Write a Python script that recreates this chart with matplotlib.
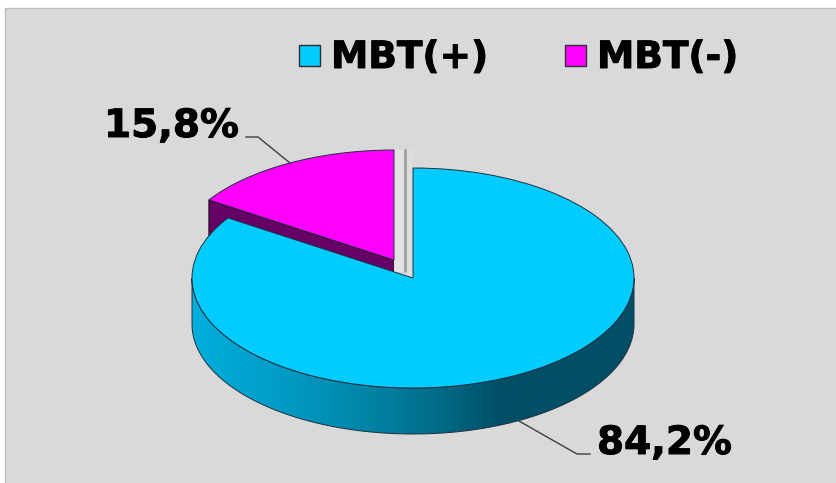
import numpy as np
import matplotlib
matplotlib.use("Agg")
import matplotlib.pyplot as plt
import matplotlib.patheffects as pe
from matplotlib.colors import LinearSegmentedColormap
from matplotlib.patches import Polygon, Rectangle
from matplotlib.transforms import Affine2D

categories = ["MBT(+)", "MBT(-)"]
values = [84.2, 15.8]
labels = ["84,2%", "15,8%"]
top_colors = ["#00CCFF", "#FF00FF"]

W, H = 836, 483
BG = "#D9D9D9"
RX, RY, DEPTH = 221, 110, 46
CENTERS = [(413, 278), (394, 260)]

fig = plt.figure(figsize=(W / 100, H / 100), dpi=100, facecolor="white")
ax = fig.add_axes([0, 0, 1, 1])

wedges, _ = ax.pie(values, startangle=90, counterclock=True, colors=top_colors,
                   wedgeprops=dict(linewidth=0.7, edgecolor="#203040"))
fractions = np.array(values) / sum(values)
boundary = 90 + 360 * fractions[1]   # angle where the small slice ends, going counter-clockwise

ax.set_xlim(0, W)
ax.set_ylim(H, 0)
ax.set_aspect("auto")
ax.axis("off")

ax.add_patch(Rectangle((4.5, 8), W + 20, H + 20, facecolor=BG, edgecolor="#BDBDBD",
                       linewidth=1, zorder=0))


def ell(c, deg):
    t = np.radians(deg)
    return c[0] + RX * np.cos(t), c[1] - RY * np.sin(t)


# --- magenta slice: side faces
c2 = CENTERS[1]
lx, ly = ell(c2, boundary)
ax.add_patch(Polygon([(c2[0], c2[1]), (lx, ly), (lx, ly + DEPTH), (c2[0], c2[1] + DEPTH)],
                     facecolor="#660066", edgecolor="#201020", linewidth=0.8, zorder=1))

# --- sliver between the slices (inner walls)
ax.add_patch(Rectangle((c2[0], 150), 9.5, 122, facecolor="#E2E2E2", edgecolor="none", zorder=1))
ax.add_patch(Rectangle((c2[0] + 11.5, 150), 7.5, 128, facecolor="#DEDEDE", edgecolor="none", zorder=1))
ax.plot([404.5, 404.5], [149, 272], color="#A0A0A0", lw=2, zorder=1.1, solid_capstyle="butt")

# --- blue outer wall with horizontal shading
c1 = CENTERS[0]
t = np.linspace(180, 360, 200)
xe, ye = ell(c1, t)
wall = np.column_stack([np.r_[xe, xe[::-1]], np.r_[ye, ye[::-1] + DEPTH]])
cmap = LinearSegmentedColormap.from_list("wall", [
    (0.00, "#00AEDC"), (0.20, "#009CC6"), (0.40, "#0084A6"),
    (0.55, "#006C88"), (0.70, "#004F66"), (1.00, "#004F66")])
im = ax.imshow(np.linspace(0, 1, 256)[None, :], cmap=cmap, aspect="auto",
               extent=(c1[0] - RX, c1[0] + RX, c1[1] + RY + DEPTH, c1[1]), zorder=2)
ax.set_xlim(0, W)
ax.set_ylim(H, 0)
clip = Polygon(wall, transform=ax.transData, facecolor="none", edgecolor="none")
ax.add_patch(clip)
im.set_clip_path(clip)
ax.add_patch(Polygon(wall, facecolor="none", edgecolor="#203040", linewidth=0.7, zorder=2.1))

# --- top faces, driven by the pie wedges
big, small = wedges
big.set_theta1(boundary - 360)
big.set_theta2(90)
small.set_theta1(90)
small.set_theta2(boundary)
for w, c, z in ((small, c2, 1.5), (big, c1, 3)):
    w.set_center((0, 0))
    w.set_radius(1)
    w.set_transform(Affine2D().scale(RX, -RY).translate(*c) + ax.transData)
    w.set_zorder(z)
    w.set_clip_on(False)

# --- legend
stroke = [pe.withStroke(linewidth=0.7, foreground="black")]
legend_font = dict(family="DejaVu Sans", weight="bold", color="black", fontsize=27)
label_font = dict(family="DejaVu Sans", weight="bold", color="black", fontsize=28)
for sx, tx, col, name in zip((298.5, 564.5), (331, 597), top_colors, categories):
    ax.add_patch(Rectangle((sx, 45), 21, 21, facecolor=col, edgecolor="#303030", linewidth=1, zorder=5))
    ax.text(tx, 68, name, ha="left", va="baseline", zorder=5, path_effects=stroke, **legend_font)

# --- data labels and leaders
ax.text(597, 454, labels[0], ha="left", va="baseline", zorder=5, path_effects=stroke, **label_font)
ax.text(104, 137, labels[1], ha="left", va="baseline", zorder=5, path_effects=stroke, **label_font)
ax.plot([519, 577, 590], [421, 454, 454], color="#404040", lw=1, zorder=4)
ax.plot([246, 258, 290], [137, 137, 163], color="#404040", lw=1, zorder=4)

fig.savefig("out.png", dpi=100, facecolor="white")
